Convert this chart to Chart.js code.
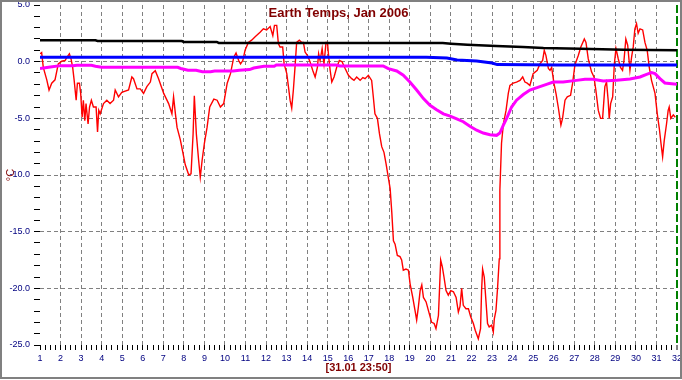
<!DOCTYPE html>
<html>
<head>
<meta charset="utf-8">
<script src="https://cdn.jsdelivr.net/npm/chart.js@4.4.1/dist/chart.umd.min.js"></script>
<style>
  html, body { margin: 0; padding: 0; background: #ffffff; }
  #wrap { position: relative; width: 682px; height: 380px; }
  #c { position: absolute; left: 0; top: 0; }
  #frame { position: absolute; left: 0; top: 0; width: 682px; height: 379px; box-sizing: border-box; border: 2px solid #808080; pointer-events: none; }
</style>
</head>
<body>
<div id="wrap">
  <canvas id="c" width="682" height="380"></canvas>
  <div id="frame"></div>
</div>
<script>
// ---- Data ----
const chartTitle = 'Earth Temps, Jan 2006';
const xAxisTitle = '[31.01 23:50]';
const yAxisTitle = '°C';

// Red series: temperature (day of month, °C)
const redDays = [1.00,1.08,1.16,1.33,1.44,1.57,1.73,1.89,2.06,2.22,2.30,2.43,2.51,2.59,2.66,2.76,2.82,2.92,2.98,3.05,3.11,3.18,3.24,3.34,3.41,3.50,3.60,3.73,3.80,3.86,3.93,4.09,4.25,4.41,4.58,4.66,4.82,4.98,5.31,5.47,5.55,5.72,5.88,6.04,6.20,6.37,6.45,6.61,6.77,7.02,7.26,7.42,7.50,7.59,7.67,7.83,7.96,8.07,8.24,8.35,8.45,8.51,8.61,8.72,8.80,8.89,9.00,9.13,9.26,9.46,9.62,9.78,9.94,10.11,10.27,10.43,10.54,10.67,10.76,
  10.87,10.98,11.14,11.30,11.47,11.71,11.87,12.03,12.20,12.33,12.41,12.52,12.60,12.68,12.81,12.88,13.01,13.09,13.17,13.25,13.33,13.41,13.49,13.62,13.74,13.82,13.90,14.01,14.14,14.27,14.39,14.50,14.56,14.63,14.73,14.82,14.92,14.99,15.05,15.12,15.20,15.31,15.44,15.57,15.70,15.85,16.01,16.17,16.28,16.41,16.58,16.71,16.82,16.98,17.14,17.22,17.30,17.42,17.52,17.63,17.74,17.84,17.95,18.04,
  18.12,18.20,18.28,18.39,18.52,18.60,18.68,18.81,18.93,19.01,19.14,19.25,19.33,19.41,19.50,19.58,19.66,19.79,19.90,20.06,20.18,20.27,20.39,20.44,20.50,20.58,20.66,20.76,20.87,20.99,21.12,21.25,21.36,21.44,21.52,21.60,21.73,21.85,21.96,22.09,22.18,22.33,22.44,22.49,22.54,22.62,22.70,22.78,22.86,22.98,23.06,23.11,23.19,23.27,23.35,23.38,
  23.46,23.55,23.68,23.79,23.87,24.03,24.19,24.36,24.49,24.60,24.71,24.84,25.00,25.20,25.33,25.46,25.54,25.62,25.74,25.82,25.90,26.01,26.11,26.22,26.35,26.43,26.55,26.66,26.82,26.92,27.03,27.20,27.32,27.49,27.57,27.68,27.84,27.96,28.05,28.17,28.28,28.38,28.49,28.57,28.65,28.70,28.77,28.87,28.95,29.03,29.14,29.25,29.35,29.42,29.51,29.60,29.71,29.79,29.87,29.95,30.03,30.11,30.20,30.33,30.44,30.55,30.65,30.76,30.93,31.04,31.14,31.22,31.30,31.38,31.49,31.57,31.62,31.70,31.82,31.92];
const redTemps = [0.7,0.8,-0.5,-1.6,-2.5,-1.9,-1.6,-0.2,0.05,0.1,0.35,0.7,0.25,-0.5,-1.6,-3.4,-1.9,-1.9,-2.8,-4.9,-3.4,-5.2,-3.7,-5.5,-4.0,-3.4,-4.0,-4.0,-6.2,-4.3,-4.6,-3.7,-3.4,-3.7,-3.4,-2.5,-3.1,-2.7,-2.5,-1.35,-1.5,-2.4,-2.4,-2.8,-2.2,-1.8,-1.06,-0.8,-1.5,-2.8,-3.7,-4.6,-3.1,-4.6,-5.8,-6.9,-8.1,-9.1,-10.0,-9.9,-6.4,-3.0,-6.4,-8.7,-10.2,-8.7,-7.2,-5.8,-4.0,-3.3,-3.4,-4.0,-3.7,-1.9,-1.06,0.4,0.76,0.1,-0.2,
  0.1,1.0,1.7,1.9,2.2,2.6,2.9,2.8,3.1,2.3,3.2,3.2,1.6,1.3,1.3,-0.2,-1.06,-2.2,-3.4,-4.1,-2.5,-0.5,1.7,1.9,1.7,1.7,0.85,0.56,0,-0.76,-1.35,-0.5,0.7,0.1,1.15,-0.2,1.7,1.7,0.4,-0.76,-1.8,-1.35,-0.5,0.1,0,-0.6,-1.2,-1.5,-1.65,-1.35,-1.65,-1.4,-1.5,-1.2,-1.65,-3.1,-4.6,-5.0,-6.35,-7.5,-8.0,-9.0,-10.2,-11.2,
  -13.3,-15.8,-16.1,-17.1,-17.2,-17.5,-18.4,-18.3,-18.4,-19.6,-20.8,-21.95,-22.8,-21.7,-20.2,-19.7,-20.8,-21.2,-21.95,-23.0,-23.1,-23.55,-22.4,-20.2,-17.5,-18.1,-19.0,-20.2,-20.6,-20.2,-20.3,-20.8,-22.1,-21.6,-20.0,-21.5,-21.8,-21.8,-22.5,-23.1,-23.7,-24.45,-23.55,-20.2,-18.3,-19.0,-21.05,-23.1,-23.4,-23.25,-23.85,-22.7,-21.95,-19.9,-17.4,-11.35,
  -7.2,-5.5,-4.3,-2.8,-2.1,-1.9,-1.8,-1.65,-1.35,-1.8,-1.9,-2.1,-1.06,-0.76,-0.2,0.1,1.0,0.56,-0.6,-0.76,-0.5,-1.9,-2.8,-4.0,-5.6,-5.0,-3.4,-3.1,-2.97,-1.9,-0.3,0.56,1.3,2.0,1.7,0.26,-0.9,-1.35,-2.5,-4.3,-5.0,-5.0,-2.2,-1.8,-3.4,-5.0,-3.7,-3.1,-0.2,1.15,0.26,-0.5,-0.76,0.1,2.0,1.45,-0.76,0.4,1.3,2.9,3.35,2.5,2.9,2.8,1.7,1.0,-0.5,-1.65,-2.8,-4.6,-5.9,-7.2,-8.4,-6.95,-5.5,-4.3,-4.0,-5.0,-4.7,-4.9];

// Black series
const blackDays  = [1, 3.7, 3.8, 7.9, 8.0, 9.6, 9.7, 20.6, 21.0, 21.8, 23.2, 24.5, 25.5, 27.3, 29.4, 32];
const blackTemps = [1.88, 1.88, 1.82, 1.82, 1.74, 1.74, 1.65, 1.65, 1.59, 1.5, 1.38, 1.3, 1.2, 1.15, 1.06, 1.0];

// Blue series
const blueDays  = [1, 19.8, 20.8, 21.3, 22.25, 23.0, 23.25, 26.2, 32];
const blueTemps = [0.38, 0.38, 0.32, 0.15, 0.06, -0.12, -0.26, -0.3, -0.3];

// Magenta series
const magentaDays  = [1.0,1.5,2.0,2.6,2.8,3.5,3.7,4.0,7.7,7.85,8.2,8.6,8.9,9.3,9.5,10.4,10.7,11.2,11.4,11.9,12.4,12.5,15.4,15.6,17.7,17.95,18.36,18.68,19.0,19.33,19.66,19.98,20.3,20.63,20.96,21.28,21.6,21.92,22.25,22.57,22.9,23.22,23.38,23.55,23.71,23.95,24.19,24.52,24.84,25.33,25.65,25.98,26.46,27.11,27.52,27.92,28.41,29.06,29.71,30.2,30.52,30.76,30.93,31.17,31.41,31.74,32];
const magentaTemps = [-0.6,-0.47,-0.35,-0.35,-0.32,-0.32,-0.4,-0.5,-0.5,-0.6,-0.76,-0.76,-0.88,-0.88,-0.82,-0.82,-0.76,-0.7,-0.56,-0.41,-0.41,-0.3,-0.3,-0.38,-0.38,-0.62,-0.82,-1.2,-1.8,-2.5,-3.26,-3.85,-4.24,-4.6,-4.8,-5.05,-5.3,-5.7,-6.05,-6.3,-6.44,-6.5,-6.3,-5.6,-5.0,-4.0,-3.4,-2.9,-2.5,-2.2,-2.0,-1.8,-1.8,-1.65,-1.56,-1.56,-1.7,-1.65,-1.53,-1.35,-1.12,-0.97,-1.06,-1.5,-1.88,-1.94,-2.0];

// Axis ranges
const xMin = 1, xMax = 32, xMinorStep = 0.25;
const yMin = -25, yMax = 5, yMinorStep = 1, yMajorStep = 5;

// ---- Chart ----
const toPoints = (xs, ys) => xs.map((x, i) => ({ x: x, y: ys[i] }));
Chart.defaults.font.family = "'Liberation Sans', Arial, sans-serif";

const GRID = '#808080';
const NONE = 'rgba(0,0,0,0)';

new Chart(document.getElementById('c'), {
  type: 'line',
  data: {
    datasets: [
      { data: toPoints(redDays, redTemps), borderColor: '#ff0000', borderWidth: 1.4, pointRadius: 0, tension: 0, order: 10 },
      { data: toPoints(magentaDays, magentaTemps), borderColor: '#ff00ff', borderWidth: 3, pointRadius: 0, tension: 0, order: 3 },
      { data: toPoints(blueDays, blueTemps), borderColor: '#0000ff', borderWidth: 3, pointRadius: 0, tension: 0, order: 2 },
      { data: toPoints(blackDays, blackTemps), borderColor: '#000000', borderWidth: 2.5, pointRadius: 0, tension: 0, order: 1 }
    ]
  },
  options: {
    responsive: false,
    animation: false,
    events: [],
    layout: { padding: { left: 0, right: 5, top: 0, bottom: 0 } },
    plugins: {
      legend: { display: false },
      tooltip: { enabled: false },
      title: {
        display: true,
        text: chartTitle,
        color: '#800000',
        font: { size: 13, weight: 'bold', lineHeight: 1.2 },
        padding: { top: 5.6, bottom: -16.2 }
      }
    },
    scales: {
      x: {
        type: 'linear',
        min: xMin,
        max: xMax,
        afterFit: s => { s.height = 35; s.paddingLeft = 0; s.paddingRight = 0; },
        ticks: {
          stepSize: xMinorStep,
          autoSkip: false,
          maxRotation: 0,
          minRotation: 0,
          color: '#000080',
          font: { size: 9 },
          padding: 3,
          callback: v => Number.isInteger(v) ? String(v) : ''
        },
        grid: {
          color: c => {
            const v = c.tick ? c.tick.value : null;
            if (v === xMax) return '#008000';
            return (Number.isInteger(v) && v > xMin && v < xMax) ? GRID : NONE;
          },
          lineWidth: c => (c.tick && c.tick.value === xMax) ? 2 : 1,
          tickColor: '#000000',
          tickWidth: 1,
          tickLength: 5,
          drawTicks: true
        },
        border: {
          display: false,
          dash: c => (c.tick && c.tick.value === xMax) ? [8, 3] : [4, 3]
        },
        title: {
          display: true,
          text: xAxisTitle,
          color: '#800000',
          font: { size: 11, weight: 'bold', lineHeight: 1.2 },
          padding: { top: 0, bottom: 5.4 }
        }
      },
      y: {
        type: 'linear',
        min: yMin,
        max: yMax,
        afterFit: s => { s.width = 40; s.paddingTop = 0; s.paddingBottom = 0; },
        ticks: {
          stepSize: yMinorStep,
          autoSkip: false,
          color: '#000080',
          font: { size: 9 },
          padding: 4,
          callback: v => (v % yMajorStep === 0) ? v.toFixed(1) : ''
        },
        grid: {
          color: c => {
            const v = c.tick ? c.tick.value : null;
            return (v !== null && v % yMajorStep === 0 && v > yMin && v < yMax) ? GRID : NONE;
          },
          lineWidth: 1,
          tickColor: '#000000',
          tickWidth: 1,
          tickLength: 6,
          drawTicks: true
        },
        border: { display: false, dash: [4, 3] },
        title: {
          display: true,
          text: yAxisTitle,
          color: '#800000',
          font: { size: 11, lineHeight: 1.2 },
          padding: { top: 4, bottom: 0 }
        }
      }
    }
  }
});
</script>
</body>
</html>
